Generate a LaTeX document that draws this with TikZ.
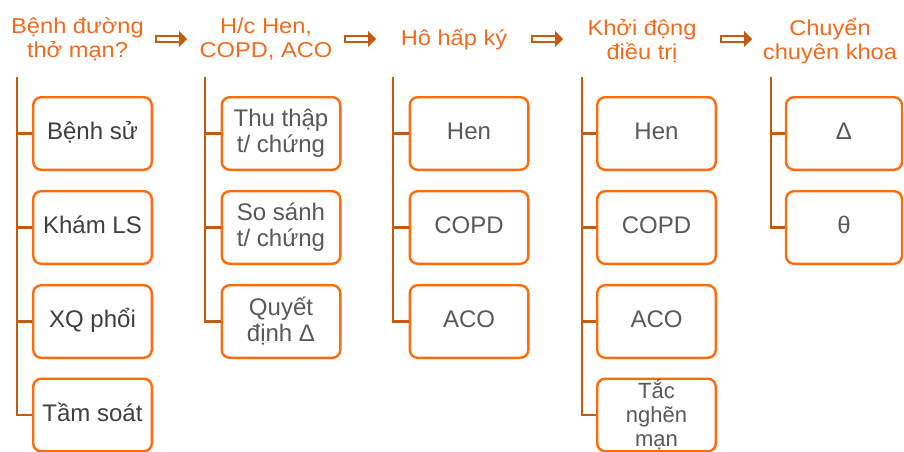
\documentclass[tikz,border=0pt]{standalone}
\usepackage{fontspec}
\setmainfont{Liberation Sans}
\newfontfamily\hdrfamily{Liberation Sans}[FakeStretch=1.1]
\usetikzlibrary{calc}
\definecolor{hdr}{HTML}{F26A1B}
\definecolor{bx}{HTML}{FF6A0A}
\definecolor{conn}{HTML}{C55A11}
\definecolor{txtd}{HTML}{3F3F3F}
\definecolor{txtg}{HTML}{595959}
\newcommand\hdrlines[1]{\vtop{\baselineskip=24pt\lineskiplimit=-100pt\halign{\hfil##\hfil\cr#1\crcr}}}
\begin{document}
\begin{tikzpicture}[x=1pt,y=-1pt,
 hdrtext/.style={text=hdr, anchor=base, font=\hdrfamily\fontsize{21.5}{24}\selectfont, inner sep=0pt},
 box/.style={draw=bx, line width=2.4pt, rounded corners=8pt, fill=white, minimum width=118.6pt, minimum height=72.6pt, inner sep=0pt, align=center, text=txtg, font=\fontsize{24}{26}\selectfont},
 oneline/.style={text height=17pt, text depth=5pt},
 narrowbox/.style={box, minimum width=116pt},
 dark/.style={text=txtd},
 link/.style={draw=conn, line width=2.4pt},
 arrline/.style={draw=conn, line width=1.7pt},
 arrhead/.style={fill=conn},
]
\useasboundingbox (0,0) rectangle (904,452);

% headers (anchored at the baseline of the first line)
\node[hdrtext] (h1) at (77.5,33.3) {\hdrlines{Bệnh đường\cr thở mạn?}};
\node[hdrtext] (h2) at (266,33.3) {\hdrlines{H/c Hen,\cr COPD, ACO}};
\node[hdrtext] (h3) at (454,45.5) {Hô hấp ký};
\node[hdrtext] (h4) at (642,35.5) {\hdrlines{Khởi động\cr điều trị}};
\node[hdrtext] (h5) at (830,35.5) {\hdrlines{Chuyển\cr chuyên khoa}};

% arrows
\foreach \i/\xs in {1/156,2/345,3/532,4/721}{
  \coordinate (as\i) at (\xs,39);
  \coordinate (ae\i) at (\xs+31,39);
  \draw[arrline] ($(as\i)+(0,-3.3)$) rectangle ($(ae\i)+(-7.5,3.3)$);
  \fill[arrhead] ($(ae\i)+(-8,-8)$) -- (ae\i) -- ($(ae\i)+(-8,8)$) -- cycle;
}

% vertical spines
\coordinate (v1) at (17,77);
\coordinate (v2) at (205,77);
\coordinate (v3) at (393,77);
\coordinate (v4) at (582,77);
\coordinate (v5) at (771,77);

% column 1
\node[box,oneline,dark] (b11) at (92.5,133.5) {Bệnh sử};
\node[box,oneline,dark] (b12) at (92.5,227.5) {Khám LS};
\node[box,oneline,dark] (b13) at (92.5,321.5) {XQ phổi};
\node[box,oneline,dark] (b14) at (92.5,415) {Tầm soát};
% column 2
\node[box] (b21) at (281,133.5) {Thu thập\\t/ chứng};
\node[box] (b22) at (281,227.5) {So sánh\\t/ chứng};
\node[box] (b23) at (281,321.5) {Quyết\\định Δ};
% column 3
\node[box,oneline] (b31) at (469,133.5) {Hen};
\node[box,oneline] (b32) at (469,227.5) {COPD};
\node[box,oneline] (b33) at (469,321.5) {ACO};
% column 4
\node[box,oneline] (b41) at (656.5,133.5) {Hen};
\node[box,oneline] (b42) at (656.5,227.5) {COPD};
\node[box,oneline] (b43) at (656.5,321.5) {ACO};
\node[box,font=\fontsize{22}{24}\selectfont] (b44) at (656.5,415) {Tắc\\nghẽn\\mạn};
% column 5
\node[narrowbox,oneline] (b51) at (844,133.5) {Δ};
\node[narrowbox,oneline] (b52) at (844,227.5) {θ};

% connectors (spine to box)
\draw[link] (v1) |- (b14.west);
\foreach \n in {b11,b12,b13}{\draw[link] (v1 |- \n.west) -- (\n.west);}
\draw[link] (v2) |- (b23.west);
\foreach \n in {b21,b22}{\draw[link] (v2 |- \n.west) -- (\n.west);}
\draw[link] (v3) |- (b33.west);
\foreach \n in {b31,b32}{\draw[link] (v3 |- \n.west) -- (\n.west);}
\draw[link] (v4) |- (b44.west);
\foreach \n in {b41,b42,b43}{\draw[link] (v4 |- \n.west) -- (\n.west);}
\draw[link] (v5) |- (b52.west);
\draw[link] (v5 |- b51.west) -- (b51.west);
\end{tikzpicture}
\end{document}
